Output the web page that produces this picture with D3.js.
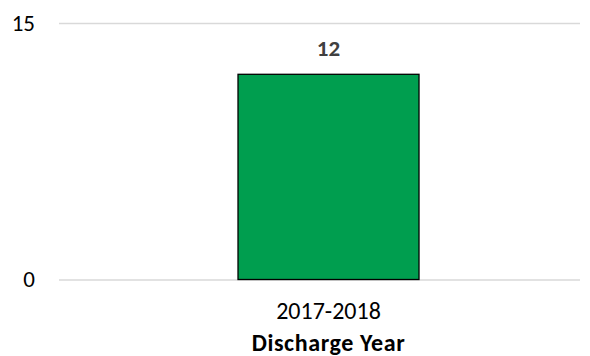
<!DOCTYPE html>
<html><head><meta charset="utf-8">
<script src="https://cdn.jsdelivr.net/npm/d3@7"></script>
<style>body{margin:0;background:#fff}svg{display:block}text{font-family:Carlito,Calibri,Lato,"Open Sans",sans-serif}</style>
</head><body><svg id="c" width="590" height="356"></svg>
<script>
const categories = ["2017-2018"];
const values = [12];
const yTicks = [0, 15];
const xTitle = "Discharge Year";

const FONT = "Carlito,Calibri,Lato,sans-serif";
const svg = d3.select("#c");
const m = {left: 59, right: 580, top: 23, bottom: 279.5};
const x = d3.scaleBand().domain(categories).range([m.left, m.right])
  .paddingInner(0.5).paddingOuter(0.4696).align(0.5265);
const y = d3.scaleLinear().domain([0, 15]).range([m.bottom, m.top]);

const yAxis = d3.axisLeft(y).tickValues(yTicks).tickSize(-(m.right - m.left)).tickPadding(24);
const gy = svg.append("g").attr("transform", `translate(${m.left},0)`).call(yAxis);
gy.select(".domain").remove();
gy.selectAll(".tick line").attr("stroke", "#d9d9d9").attr("stroke-width", 1.5);
gy.selectAll(".tick text").attr("font-size", 23).attr("fill", "#000").style("font-family", FONT);

svg.append("g").selectAll("text").data(values).join("text")
  .attr("x", (d, i) => x(categories[i]) + x.bandwidth() / 2)
  .attr("y", d => y(d) - 18)
  .attr("text-anchor", "middle").attr("font-size", 23).attr("font-weight", "bold").attr("fill", "#404040")
  .text(d => d);

svg.append("g").selectAll("rect").data(values).join("rect")
  .attr("x", (d, i) => x(categories[i]))
  .attr("y", d => y(d))
  .attr("width", x.bandwidth())
  .attr("height", d => y(0) - y(d))
  .attr("fill", "#009e4f").attr("stroke", "#000").attr("stroke-width", 1.3);

const xAxis = d3.axisBottom(x).tickSize(0).tickPadding(22);
const gx = svg.append("g").attr("transform", `translate(0,${m.bottom})`).call(xAxis);
gx.select(".domain").remove();
gx.selectAll(".tick text").attr("font-size", 24).attr("fill", "#000").style("font-family", FONT);

svg.append("text").attr("x", x(categories[0]) + x.bandwidth() / 2).attr("y", 351)
  .attr("text-anchor", "middle").attr("font-size", 24).attr("font-weight", "bold").attr("fill", "#000")
  .attr("letter-spacing", 0.6)
  .text(xTitle);
</script></body></html>
